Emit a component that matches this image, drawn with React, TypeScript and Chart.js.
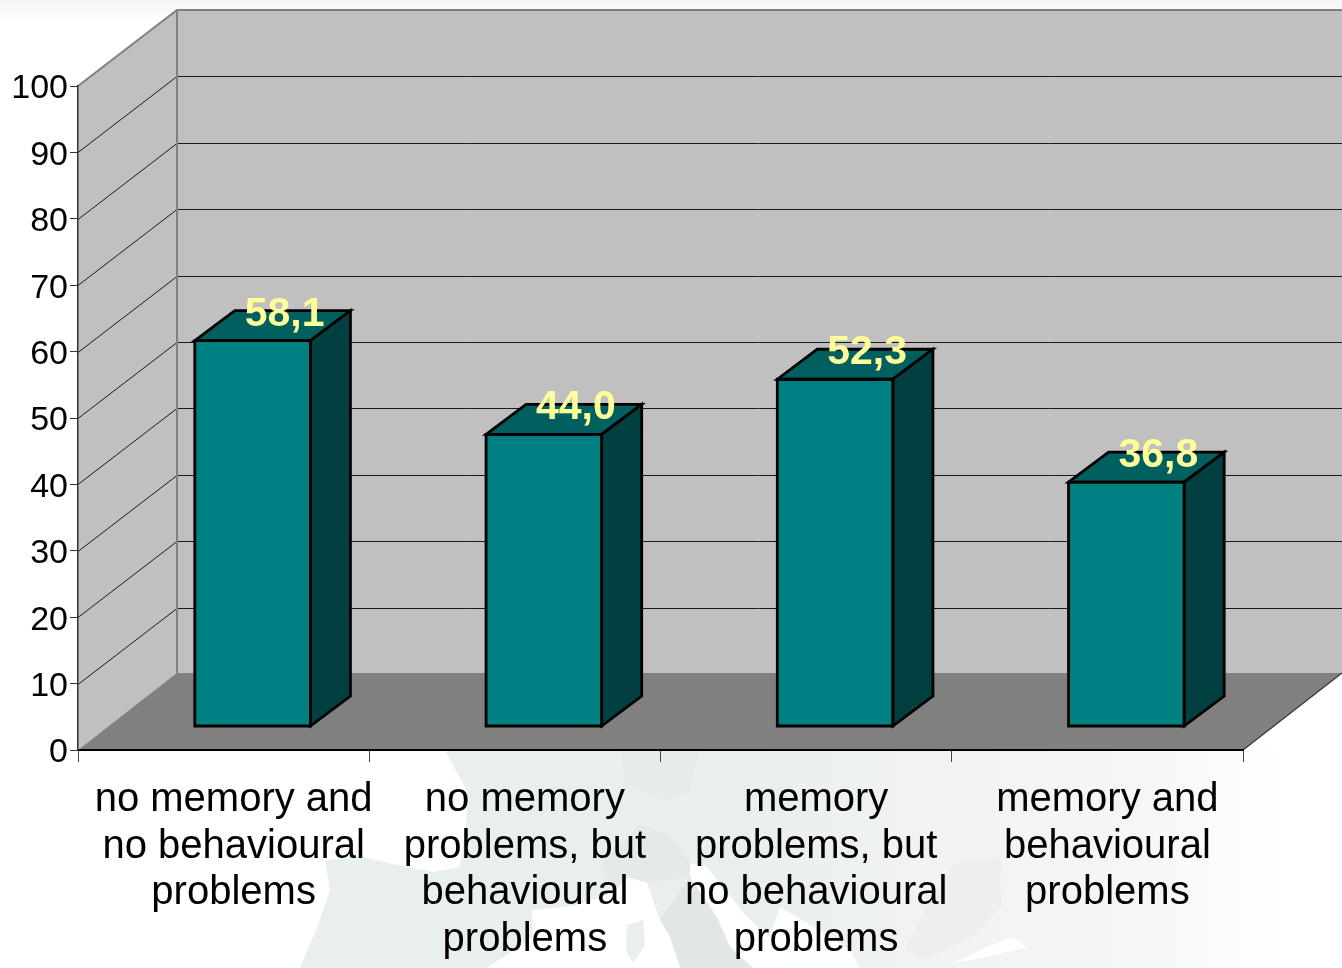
import React, { useEffect, useRef } from "react";
import { Chart, registerables } from "chart.js";

Chart.register(...registerables);

const categories = [
  ["no memory and", "no behavioural", "problems"],
  ["no memory", "problems, but", "behavioural", "problems"],
  ["memory", "problems, but", "no behavioural", "problems"],
  ["memory and", "behavioural", "problems"],
];
const values = [58.1, 44.0, 52.3, 36.8];
const yTicks = [0, 10, 20, 30, 40, 50, 60, 70, 80, 90, 100];

const FONT = '"Liberation Sans", Arial, sans-serif';
const WALL = { dx: 99, dy: -76 };
const BAR_SHIFT = { dx: 29, dy: -23.5 };
const BAR_DEPTH = { dx: 40, dy: -30 };

function poly(ctx: CanvasRenderingContext2D, pts: number[][], fill?: any, stroke?: string, lw = 1) {
  ctx.beginPath();
  pts.forEach((p, i) => (i ? ctx.lineTo(p[0], p[1]) : ctx.moveTo(p[0], p[1])));
  ctx.closePath();
  if (fill) {
    ctx.fillStyle = fill;
    ctx.fill();
  }
  if (stroke) {
    ctx.strokeStyle = stroke;
    ctx.lineWidth = lw;
    ctx.lineJoin = "miter";
    ctx.stroke();
  }
}

function drawBackdrop(ctx: CanvasRenderingContext2D, w: number, h: number) {
  ctx.fillStyle = "#ffffff";
  ctx.fillRect(0, 0, w, h);
  const top = ctx.createLinearGradient(0, 0, 0, 24);
  top.addColorStop(0, "#f5f5f5");
  top.addColorStop(1, "#ffffff");
  ctx.fillStyle = top;
  ctx.fillRect(0, 0, w, 24);

  const land = ctx.createLinearGradient(300, 0, 1290, 0);
  land.addColorStop(0, "#e9eeee");
  land.addColorStop(0.45, "#e9eeee");
  land.addColorStop(0.62, "#f0f3f2");
  land.addColorStop(0.85, "#f5f7f6");
  land.addColorStop(1, "#ffffff");
  poly(ctx, [
    [445, 750], [1342, 750], [1342, 968], [300, 968], [318, 925], [330, 890], [325, 860],
    [363, 857], [397, 865], [433, 872], [460, 867], [467, 817], [465, 787],
  ], land);
  // inland shading
  poly(ctx, [[622, 750], [700, 750], [690, 790], [665, 800], [625, 785]], "#e7ecea");
  poly(ctx, [[600, 865], [640, 825], [670, 835], [690, 863], [690, 877], [647, 883], [628, 877], [613, 890]], "#e5e9e8");
  poly(ctx, [[660, 920], [690, 877], [717, 917], [730, 947], [753, 968], [680, 968]], "#e2e7e6");
  poly(ctx, [[955, 862], [1000, 856], [1002, 905], [975, 935], [925, 960], [905, 950], [930, 900]], "#edf0ef");
  // seas
  poly(ctx, [
    [487, 968], [533, 937], [532, 910], [573, 906], [613, 893], [628, 877], [647, 883],
    [660, 920], [670, 937], [680, 968],
  ], "#ffffff");
  poly(ctx, [[627, 925], [643, 920], [645, 945], [633, 963], [626, 950]], "#e9eeee");
  poly(ctx, [[690, 877], [690, 863], [707, 867], [747, 917], [790, 955], [802, 968], [753, 968], [730, 947], [717, 917]], "#ffffff");
  poly(ctx, [[780, 907], [810, 925], [850, 950], [860, 968], [790, 968], [770, 935]], "#fdfefe");
  poly(ctx, [[953, 963], [987, 957], [1027, 947], [1013, 937], [987, 947], [967, 957]], "#ffffff");
}

const depthPlugin = {
  id: "depth3d",
  beforeDraw(chart: any) {
    const { ctx, chartArea: a, scales } = chart;
    const y = scales.y;
    drawBackdrop(ctx, chart.width, chart.height);
    const { left: l, right: r, top: t, bottom: b } = a;
    const bl = l + WALL.dx, bt = t + WALL.dy, bb = b + WALL.dy, br = r + WALL.dx;
    poly(ctx, [[l, t], [bl, bt], [bl, bb], [l, b]], "#c0c0c0");
    poly(ctx, [[bl, bt], [br, bt], [br, bb], [bl, bb]], "#c0c0c0");
    poly(ctx, [[l, b], [r, b], [br, bb - 1], [bl, bb - 1]], "#808080");

    ctx.lineWidth = 1;
    ctx.strokeStyle = "#1a1a1a";
    y.ticks.forEach((tick: any) => {
      if (tick.value === 0 || tick.value === 100) return;
      const py = Math.round(y.getPixelForValue(tick.value)) + 0.5;
      ctx.beginPath();
      ctx.moveTo(l, py);
      ctx.lineTo(bl, py + WALL.dy);
      ctx.lineTo(br, py + WALL.dy);
      ctx.stroke();
    });
    // top and rear edges of the walls
    ctx.strokeStyle = "#808080";
    ctx.lineWidth = 2;
    ctx.beginPath();
    ctx.moveTo(l, t);
    ctx.lineTo(bl, bt);
    ctx.lineTo(br, bt);
    ctx.moveTo(bl, bt);
    ctx.lineTo(bl, bb - 1);
    ctx.stroke();
    ctx.strokeStyle = "#333333";
    ctx.lineWidth = 1.2;
    ctx.beginPath();
    ctx.moveTo(r, b);
    ctx.lineTo(br, bb - 1);
    ctx.stroke();
  },
  beforeDatasetDraw(chart: any) {
    chart.ctx.save();
    chart.ctx.translate(BAR_SHIFT.dx, BAR_SHIFT.dy);
  },
  afterDatasetDraw(chart: any) {
    chart.ctx.restore();
  },
  afterDatasetsDraw(chart: any) {
    const ctx = chart.ctx;
    const bars = chart.getDatasetMeta(0).data;
    bars.forEach((bar: any) => {
      const half = bar.width / 2;
      const x0 = bar.x + BAR_SHIFT.dx - half;
      const x1 = bar.x + BAR_SHIFT.dx + half;
      const top = bar.y + BAR_SHIFT.dy;
      const bot = bar.base + BAR_SHIFT.dy;
      const { dx, dy } = BAR_DEPTH;
      poly(ctx, [[x0, top], [x1, top], [x1 + dx, top + dy], [x0 + dx, top + dy]], "#005f5f", "#000000", 2.8);
      poly(ctx, [[x1, top], [x1 + dx, top + dy], [x1 + dx, bot + dy], [x1, bot]], "#004040", "#000000", 2.8);
      poly(ctx, [[x0, top], [x1, top], [x1, bot], [x0, bot]], undefined, "#000000", 2.8);
    });
    ctx.save();
    ctx.font = `bold 41px ${FONT}`;
    ctx.fillStyle = "#ffff99";
    ctx.textAlign = "center";
    ctx.textBaseline = "alphabetic";
    bars.forEach((bar: any, i: number) => {
      const label = values[i].toFixed(1).replace(".", ",");
      ctx.fillText(label, bar.x + BAR_SHIFT.dx + 32, bar.y + BAR_SHIFT.dy - 15);
    });
    ctx.restore();
  },
};

export default function App() {
  const ref = useRef<HTMLCanvasElement | null>(null);
  useEffect(() => {
    document.body.style.margin = "0";
    const chart = new Chart(ref.current as HTMLCanvasElement, {
      type: "bar",
      data: {
        labels: categories as any,
        datasets: [
          {
            data: values,
            backgroundColor: "#008080",
            borderWidth: 0,
            barPercentage: 0.397,
            categoryPercentage: 1,
            clip: false as any,
          },
        ],
      },
      options: {
        animation: false,
        responsive: false,
        devicePixelRatio: 1,
        layout: { padding: { top: 86, right: 99, left: 0, bottom: 0 } },
        plugins: { legend: { display: false }, title: { display: false }, tooltip: { enabled: false } },
        scales: {
          x: {
            offset: true,
            grid: { drawOnChartArea: false, drawTicks: true, tickLength: 12, color: "#444444", lineWidth: 1 },
            border: { color: "#000000", width: 2 },
            ticks: {
              autoSkip: false,
              maxRotation: 0,
              minRotation: 0,
              labelOffset: 10,
              padding: 15,
              color: "#000000",
              font: { family: FONT, size: 40, lineHeight: 1.1625 },
            },
            afterFit: (s: any) => {
              s.height = 218;
            },
          },
          y: {
            min: 0,
            max: 100,
            afterBuildTicks: (s: any) => {
              s.ticks = yTicks.map((value) => ({ value }));
            },
            grid: { drawOnChartArea: false, drawTicks: true, tickLength: 8, color: "#333333", lineWidth: 1 },
            border: { color: "#333333", width: 1.5 },
            ticks: {
              padding: 2,
              labelOffset: 3,
              color: "#000000",
              font: { family: FONT, size: 34 },
            },
            afterFit: (s: any) => {
              s.width = 78;
            },
          },
        },
      },
      plugins: [depthPlugin as any],
    });
    return () => chart.destroy();
  }, []);
  return (
    <canvas
      ref={ref}
      width={1342}
      height={968}
      style={{ display: "block", width: 1342, height: 968 }}
    />
  );
}
